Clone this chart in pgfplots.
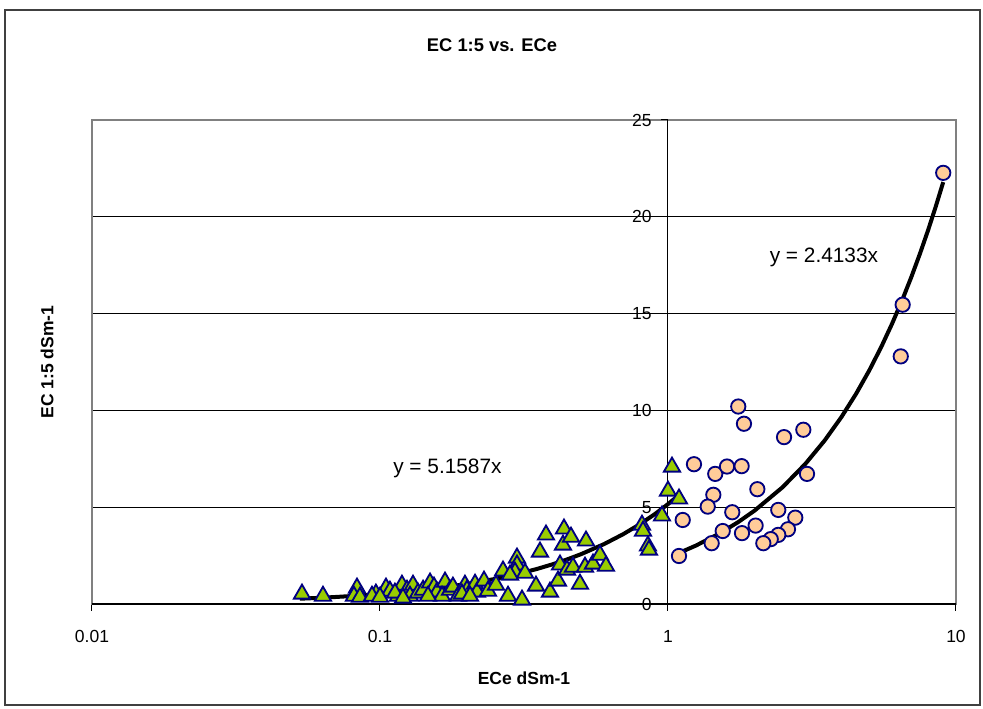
\documentclass[border=0pt]{standalone}
\usepackage{pgfplots}
\pgfplotsset{compat=1.18}
\usepackage{fontspec}
\setmainfont{Liberation Sans}
\definecolor{tri}{HTML}{99CC00}
\definecolor{cir}{HTML}{FFCC99}
\definecolor{edge}{HTML}{000080}
\definecolor{frame}{HTML}{808080}
\begin{document}
\fontsize{10.5}{12.6}\selectfont
\begin{tikzpicture}
\path[use as bounding box, fill=white] (-55.2pt,-63pt) rectangle (534.6pt,362.4pt);
\draw[black!75, line width=0.9pt] (-52.2pt,-60.6pt) rectangle (532.8pt,356.4pt);
\begin{axis}[
  at={(0,0)}, anchor=south west,
  scale only axis, width=518.4pt, height=290.4pt,
  xmode=log, xmin=0.01, xmax=10, ymin=0, ymax=25,
  xtick={0.01,0.1,1,10}, xticklabels={0.01,0.1,1,10},
  xminorticks=false, yminorticks=false,
  xtick pos=left, tick align=outside, major tick length=4pt,
  x tick style={black, line width=0.6pt},
  xticklabel style={font=\fontsize{10.5}{12.6}\selectfont, yshift=-8pt},
  ytick={5,10,15,20}, yticklabels={},
  y tick style={draw=none},
  ymajorgrids, grid style={black, line width=0.6pt},
  axis line style={frame, line width=0.9pt},
  clip=false,
]
\addplot[only marks, mark=triangle*, mark size=5.6pt, mark options={fill=tri, draw=edge, line width=1.1pt}] coordinates {
(0.0536,0.52) (0.0634,0.41) (0.0832,0.83) (0.0812,0.41) (0.0852,0.36) (0.0968,0.52)
(0.1049,0.83) (0.1083,0.67) (0.1155,0.41) (0.1192,0.98) (0.1241,0.72) (0.1302,0.98)
(0.1271,0.41) (0.1355,0.57) (0.1411,0.72) (0.1492,1.09) (0.1540,0.88) (0.1578,0.62)
(0.1682,1.14) (0.1642,0.41) (0.1751,0.72) (0.1792,0.88) (0.1866,0.41) (0.1973,0.98)
(0.2005,0.72) (0.2138,1.03) (0.2172,0.62) (0.2297,1.19) (0.2371,0.67) (0.0938,0.41)
(0.1127,0.57) (0.1468,0.41) (0.1926,0.52) (0.2054,0.41) (0.1000,0.36) (0.1202,0.31)
(0.2674,1.71) (0.2783,0.41) (0.2990,2.38) (0.2990,2.02) (0.2943,1.65) (0.3113,0.21)
(0.3188,1.60) (0.3481,0.93) (0.3594,2.69) (0.3771,3.57) (0.3893,0.62) (0.4150,1.19)
(0.4217,2.02) (0.4319,3.05) (0.4354,3.88) (0.4605,3.46) (0.4460,1.76) (0.4679,1.91)
(0.4948,1.03) (0.5150,1.91) (0.5192,3.26) (0.5490,2.07) (0.5806,2.53) (0.6090,1.96)
(0.2828,1.50) (0.2528,0.98)
(0.8124,4.08) (0.8190,3.77) (0.8520,3.00) (0.8590,2.79) (0.9532,4.55) (1.000,5.84)
(1.0325,7.08) (1.092,5.43)
};
\addplot[only marks, mark=*, mark size=4.3pt, mark options={fill=cir, draw=edge, line width=1.1pt}] coordinates {
(1.754,10.20) (1.836,9.31) (2.529,8.62) (2.951,9.00) (1.231,7.22) (1.459,6.72)
(1.603,7.10) (1.802,7.12) (3.039,6.72) (2.043,5.93) (1.437,5.64) (1.374,5.03)
(1.672,4.74) (2.415,4.86) (2.767,4.46) (1.125,4.34) (1.549,3.77) (1.807,3.66)
(2.015,4.05) (2.610,3.86) (2.415,3.57) (2.274,3.35) (2.143,3.14) (1.418,3.14)
(1.092,2.48) (9.03,22.27) (6.53,15.46) (6.43,12.79)
};
% trendline y = 5.1587x
\addplot[black, line width=2.4pt, no marks] coordinates {
(0.0527,0.272) (0.06,0.310) (0.07,0.361) (0.08,0.413) (0.09,0.464) (0.1,0.516)
(0.12,0.619) (0.15,0.774) (0.2,1.032) (0.25,1.290) (0.3,1.548) (0.35,1.806)
(0.4,2.063) (0.45,2.321) (0.5,2.579) (0.6,3.095) (0.7,3.611) (0.8,4.127)
(0.9,4.643) (1.0,5.159) (1.08,5.571)
};
% trendline y = 2.4133x
\addplot[black, line width=2.4pt, no marks] coordinates {
(1.09,2.631) (1.25,3.017) (1.5,3.620) (1.75,4.223) (2,4.827) (2.5,6.033) (3,7.240)
(3.5,8.447) (4,9.653) (4.5,10.860) (5,12.067) (5.5,13.273) (6,14.480)
(6.5,15.686) (7,16.893) (7.5,18.100) (8,19.306) (8.5,20.513) (9.03,21.792)
};
% x axis line at y=0 and y axis line at x=1
\draw[black, line width=0.9pt] (rel axis cs:0,0) -- (rel axis cs:1,0);
\draw[black, line width=0.6pt] (axis cs:1,0) -- (axis cs:1,25);
\draw[black, line width=0.6pt] (axis cs:1,0) -- ([xshift=-4pt]axis cs:1,0);
\draw[black, line width=0.6pt] (axis cs:1,5) -- ([xshift=-4pt]axis cs:1,5);
\draw[black, line width=0.6pt] (axis cs:1,10) -- ([xshift=-4pt]axis cs:1,10);
\draw[black, line width=0.6pt] (axis cs:1,15) -- ([xshift=-4pt]axis cs:1,15);
\draw[black, line width=0.6pt] (axis cs:1,20) -- ([xshift=-4pt]axis cs:1,20);
\draw[black, line width=0.6pt] (axis cs:1,25) -- ([xshift=-4pt]axis cs:1,25);
\node[anchor=east, inner sep=0pt, xshift=-9.6pt] at (axis cs:1,0) {0};
\node[anchor=east, inner sep=0pt, xshift=-9.6pt] at (axis cs:1,5) {5};
\node[anchor=east, inner sep=0pt, xshift=-9.6pt] at (axis cs:1,10) {10};
\node[anchor=east, inner sep=0pt, xshift=-9.6pt] at (axis cs:1,15) {15};
\node[anchor=east, inner sep=0pt, xshift=-9.6pt] at (axis cs:1,20) {20};
\node[anchor=east, inner sep=0pt, xshift=-9.6pt] at (axis cs:1,25) {25};
% equations
\node[font=\fontsize{12.5}{15}\selectfont] at (axis cs:0.1715,6.98) {y = 5.1587x};
\node[font=\fontsize{12.5}{15}\selectfont] at (axis cs:3.48,17.89) {y = 2.4133x};
% title and labels
\node[font=\fontsize{11}{13}\selectfont\bfseries] at (rel axis cs:0.463,1.155) {EC 1:5 vs. ECe};
\node[font=\bfseries] at (rel axis cs:0.5,-0.153) {ECe dSm-1};
\node[font=\bfseries, rotate=90] at (rel axis cs:-0.052,0.5) {EC 1:5 dSm-1};
\end{axis}
\end{tikzpicture}
\end{document}
